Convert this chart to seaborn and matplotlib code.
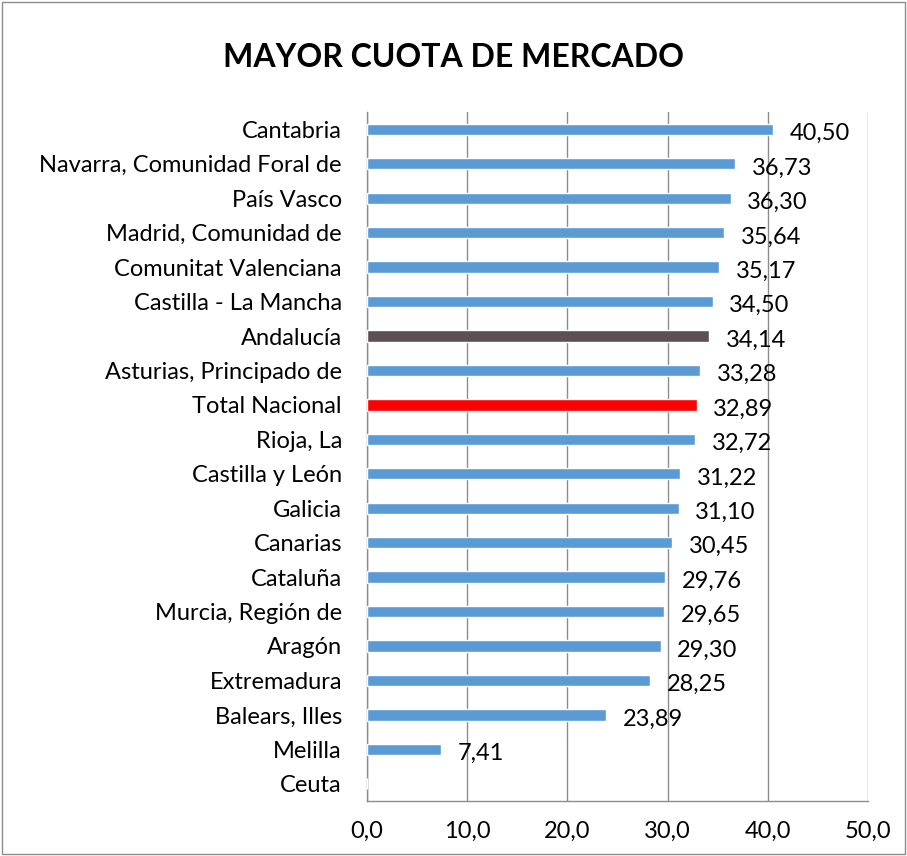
import matplotlib
matplotlib.use("Agg")
import matplotlib.pyplot as plt
import seaborn as sns
import pandas as pd
from matplotlib.patches import Rectangle

regiones = ["Cantabria", "Navarra, Comunidad Foral de", "País Vasco", "Madrid, Comunidad de",
            "Comunitat Valenciana", "Castilla - La Mancha", "Andalucía", "Asturias, Principado de",
            "Total Nacional", "Rioja, La", "Castilla y León", "Galicia", "Canarias", "Cataluña",
            "Murcia, Región de", "Aragón", "Extremadura", "Balears, Illes", "Melilla", "Ceuta"]
cuota = [40.50, 36.73, 36.30, 35.64, 35.17, 34.50, 34.14, 33.28, 32.89, 32.72, 31.22, 31.10,
         30.45, 29.76, 29.65, 29.30, 28.25, 23.89, 7.41, 0.0]
ticks_x = [0, 10, 20, 30, 40, 50]

df = pd.DataFrame({"region": regiones, "cuota": cuota})
colores = {r: "#5B9BD5" for r in regiones}
colores["Andalucía"] = "#595153"
colores["Total Nacional"] = "#FF0000"

sns.set_style("white")
plt.rcParams["font.family"] = ["Lato", "DejaVu Sans"]
plt.rcParams["text.color"] = "black"
plt.rcParams["xtick.color"] = "black"
plt.rcParams["ytick.color"] = "black"

fig = plt.figure(figsize=(9.07, 8.56), dpi=100)
ax = fig.add_axes([0.4046, 0.0643, 0.5524, 0.8047])

sns.barplot(data=df, x="cuota", y="region", hue="region", palette=colores,
            width=0.33, legend=False, ax=ax, saturation=1, zorder=3)

ax.set_xlim(0, 50)
ax.set_xticks(ticks_x)
ax.set_xticklabels([f"{t:.1f}".replace(".", ",") for t in ticks_x], fontsize=17)
ax.tick_params(axis="x", pad=14, length=0)
ax.tick_params(axis="y", labelsize=17, length=0, pad=18)
ax.set_xlabel("")
ax.set_ylabel("")
ax.grid(axis="x", color="#8C8C8C", linewidth=1, zorder=0)
ax.grid(axis="y", visible=False)
for s in ["top", "right"]:
    ax.spines[s].set_visible(False)
for s in ["left", "bottom"]:
    ax.spines[s].set_color("#8C8C8C")
    ax.spines[s].set_linewidth(1)

for i, v in enumerate(cuota):
    if v > 0:
        ax.annotate(f"{v:.2f}".replace(".", ","), (v, i), xytext=(12, -3),
                    textcoords="offset points", va="center", ha="left", fontsize=17)

fig.text(0.5, 0.933, "MAYOR CUOTA DE MERCADO", ha="center", va="center",
         fontsize=23, fontweight="bold")
fig.patches.append(Rectangle((0.002, 0.002), 0.996, 0.996, transform=fig.transFigure,
                             fill=False, edgecolor="#8C8C8C", linewidth=1))

fig.savefig("out.png", dpi=100)
